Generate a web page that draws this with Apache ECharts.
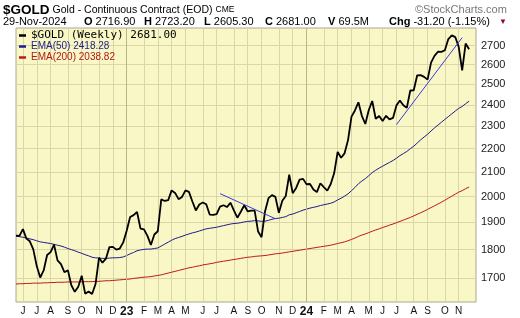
<!DOCTYPE html>
<html><head><meta charset="utf-8">
<script src="https://cdn.jsdelivr.net/npm/echarts@6/dist/echarts.min.js"></script>
<style>html,body{margin:0;padding:0;background:#fff}#c{width:520px;height:318px}</style>
</head><body><div id="c"></div><script>
// ---- data ----
const firstWeek = '2022-05-27';   // weekly closes (Fridays)
const totalWeeks = 134;           // categories on the axis (2 empty at the end)
const price = [1851,1850,1875,1840,1830,1801,1742,1703,1727,1781,1791,1818,1762,1749,1721,1728,1677,1655,1672,1709,1649,1656,1648,1681,1771,1754,1768,1809,1810,1800,1804,1826,
1869,1921,1928,1940,1877,1874,1850,1817,1855,1867,1989,1983,1986,2025,2015,1990,1999,2025,2019,1981,1946,1969,1977,1970,1930,1929,1932,1961,1966,1959,1976,1946,1918,1941,1966,1942,1945,1945,1866,1845,1942,1994,2006,1999,1937,1984,2003,2089,2014,2035,2069,2072,
2050,2051,2029,2018,2054,2038,2024,2051,2096,2186,2161,2180,2238,2345,2374,2413,2349,2311,2376,2419,2335,2348,2325,2349,2332,2339,2398,2421,2399,2386,2470,2471,2546,2547,2538,2524,2611,2646,2668,2667,2676,2736,2756,2747,2694,2571,2712,2681];
const ema50 = [1849,1847,1845,1842,1839,1836,1832,1828,1826,1824,1822,1819,1816,1813,1809,1804,1800,1796,1791,1787,1782,1778,1773,1771,1770,1769,1769,1770,1771,1771,1772,1774,
1779,1785,1790,1796,1799,1801,1802,1802,1804,1806,1813,1820,1827,1834,1840,1844,1848,1853,1857,1861,1864,1868,1872,1876,1878,1880,1882,1885,1888,1891,1894,1896,1897,1899,1902,1904,1905,1907,1906,1904,1905,1908,1912,1915,1916,1919,1922,1929,1932,1937,1942,1947,
1951,1955,1958,1961,1965,1968,1971,1974,1979,1987,1994,2002,2011,2024,2037,2052,2063,2073,2085,2098,2108,2117,2125,2133,2141,2149,2159,2170,2179,2188,2200,2211,2225,2239,2252,2264,2279,2293,2306,2319,2332,2345,2358,2371,2384,2393,2406,2418.28];
const ema200 = [1681,1682,1682,1683,1683,1684,1684,1684,1685,1685,1686,1686,1687,1687,1687,1688,1688,1688,1688,1689,1689,1689,1689,1690,1690,1691,1692,1692,1693,1694,1695,1696,
1697,1698,1700,1701,1703,1704,1705,1706,1708,1710,1712,1715,1718,1721,1724,1727,1730,1733,1736,1738,1741,1743,1746,1748,1750,1752,1755,1757,1759,1761,1763,1765,1767,1769,1771,1773,1774,1776,1777,1778,1779,1781,1783,1785,1786,1788,1790,1792,1794,1796,1798,1800,
1802,1804,1806,1808,1810,1812,1814,1816,1819,1822,1825,1828,1832,1837,1842,1848,1853,1857,1862,1867,1872,1876,1881,1885,1890,1894,1899,1904,1909,1914,1919,1925,1931,1937,1943,1950,1957,1964,1971,1978,1986,1994,2002,2010,2018,2024,2032,2038.82];
const trendDown = [[59, 2012], [75, 1914]];
const trendUp = [[110, 2308], [129, 2744]];
const yTicks = [1700,1800,1900,2000,2100,2200,2300,2400,2500,2600,2700];
const monthLetters = ['J','F','M','A','M','J','J','A','S','O','N','D'];

// ---- categories & month marks ----
const cats = [], labelIdx = new Set(), yearIdx = [], labelText = {};
const t0 = Date.parse(firstWeek + 'T00:00:00Z');
let prevM = null;
for (let i = 0; i < totalWeeks; i++) {
  const d = new Date(t0 + i * 7 * 86400000);
  cats.push(d.toISOString().slice(0, 10));
  const mon = new Date(d.getTime() - 4 * 86400000);
  const m = mon.getUTCMonth();
  if (prevM !== null && m !== prevM && i < price.length) {
    labelIdx.add(i);
    if (m === 0) { yearIdx.push(i); labelText[i] = '{y|' + String(mon.getUTCFullYear()).slice(2) + '}'; }
    else labelText[i] = monthLetters[m];
  }
  prevM = m;
}

const chart = echarts.init(document.getElementById('c'), null, {renderer: 'canvas'});
const F = 'Liberation Sans, Arial, sans-serif';
const last = a => a[a.length - 1].toFixed(2);
const nGold = '$GOLD (Weekly) ' + last(price);
const nE50 = 'EMA(50) ' + last(ema50);
const nE200 = 'EMA(200) ' + last(ema200);

const t = (text, left, top, style) => ({text, left, top, padding: 0, textStyle: Object.assign({fontFamily: F, fontSize: 11, color: '#000', fontWeight: 'normal'}, style || {})});
const kv = {rich: {k: {fontWeight: 'bold', fontSize: 11, fontFamily: F}}};

chart.setOption({
  animation: false,
  backgroundColor: '#fff',
  title: [
    t('{a|$GOLD} {b|Gold - Continuous Contract (EOD)} {c|CME}', 3, 3, {rich: {
      a: {fontWeight: 'bold', fontSize: 13.5, fontFamily: F},
      b: {fontSize: 10.5, fontFamily: F},
      c: {fontSize: 8.5, fontFamily: F}}}),
    t('\u00A9StockCharts.com', 415, 4, {fontSize: 11, color: '#777'}),
    t('29-Nov-2024', 3, 16),
    t('{k|O} 2716.90', 84, 16, kv),
    t('{k|H} 2723.20', 144, 16, kv),
    t('{k|L} 2605.30', 204, 16, kv),
    t('{k|C} 2681.00', 265, 16, kv),
    t('{k|V} 69.5M', 328, 16, kv),
    t('{k|Chg} -31.20 (-1.15%)', 389, 16, kv),
    t('\u25BC', 499, 18, {fontSize: 8, color: '#8b0a2a'})
  ],
  legend: {
    orient: 'vertical', left: 19, top: 30, itemGap: 0, padding: 0,
    icon: 'rect', itemWidth: 7, itemHeight: 2.5,
    textStyle: {lineHeight: 11},
    data: [
      {name: nGold, textStyle: {fontFamily: 'DejaVu Sans Mono, monospace', fontSize: 11, color: '#000'}},
      {name: nE50, textStyle: {fontFamily: F, fontSize: 10, color: '#1c1c8a'}},
      {name: nE200, textStyle: {fontFamily: F, fontSize: 10, color: '#b01818'}}
    ]
  },
  grid: {left: 16, right: 44, top: 28, bottom: 16, show: true, backgroundColor: '#f9f7c6', borderColor: '#a9a88e', borderWidth: 1},
  xAxis: {
    type: 'category', data: cats, boundaryGap: false,
    axisLine: {show: false}, axisTick: {show: false},
    axisLabel: {
      interval: (i) => labelIdx.has(i), margin: 4, fontFamily: F, fontSize: 10, color: '#111',
      formatter: (v, i) => labelText[i] || '',
      rich: {y: {fontWeight: 'bold', fontSize: 12, fontFamily: F, color: '#111'}}
    },
    splitLine: {show: true, interval: (i) => labelIdx.has(i), lineStyle: {color: '#d9d7a8', width: 1}}
  },
  yAxis: {
    type: 'log', logBase: 10, position: 'right', min: 1622, max: 2797,
    axisLine: {show: false},
    axisTick: {show: false, customValues: yTicks},
    axisLabel: {customValues: yTicks, margin: 5, fontFamily: F, fontSize: 11, color: '#222', formatter: (v) => String(Math.round(v))},
    splitLine: {show: true, lineStyle: {color: '#d9d7a8', width: 1}}
  },
  series: [
    {name: nGold, type: 'line', data: price, showSymbol: false, symbol: 'none', itemStyle: {color: '#000'}, lineStyle: {color: '#000', width: 1.8}, z: 5,
      markLine: {silent: true, symbol: 'none', label: {show: false}, lineStyle: {color: '#b8b68a', type: 'solid', width: 1},
        data: yearIdx.map(i => ({xAxis: cats[i]}))}},
    {name: nE50, type: 'line', data: ema50, showSymbol: false, symbol: 'none', itemStyle: {color: '#1c1c8a'}, lineStyle: {color: '#1c1c8a', width: 1}, z: 4},
    {name: nE200, type: 'line', data: ema200, showSymbol: false, symbol: 'none', itemStyle: {color: '#c01818'}, lineStyle: {color: '#c01818', width: 1}, z: 4},
    {name: 'trend1', type: 'line', data: trendDown, showSymbol: false, symbol: 'none', lineStyle: {color: '#3a3ad8', width: 1}, z: 6},
    {name: 'trend2', type: 'line', data: trendUp, showSymbol: false, symbol: 'none', lineStyle: {color: '#3a3ad8', width: 1}, z: 6}
  ]
});
</script></body></html>
